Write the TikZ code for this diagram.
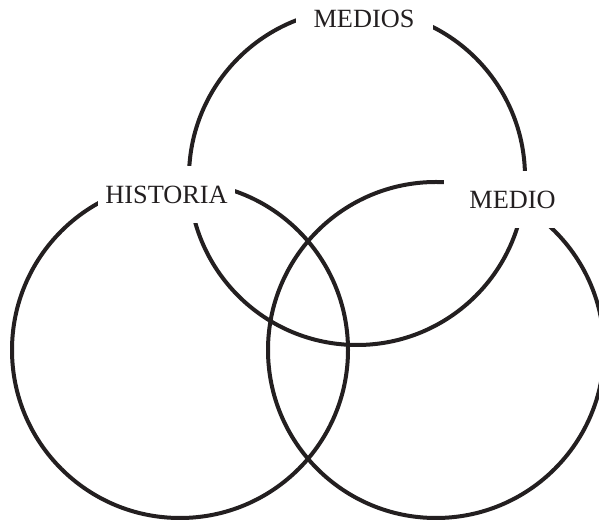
\documentclass[tikz,border=0pt]{standalone}
\usepackage{fontspec}
\setmainfont{Liberation Serif}
\definecolor{ink}{HTML}{231F20}
\tikzset{
  ring/.style={draw=ink, line width=4pt},
  tag/.style={fill=white, text=ink, inner sep=0pt, minimum width=137pt, minimum height=57pt,
    font=\fontsize{26.3}{30}\selectfont}
}
\begin{document}
\begin{tikzpicture}[x=1pt,y=1pt]
\useasboundingbox (0,0) rectangle (599,521);
\clip (0,0) rectangle (599,521);
\fill[white] (0,0) rectangle (599,521);
% circles
\draw[ring] (357,344) circle[radius=168];
\draw[ring] (180,171) circle[radius=168];
\draw[ring] (436,171) circle[radius=168];
% labels (white boxes cut the circles)
\node[tag] (medios) at (364,502) {MEDIOS};
\node[tag] (historia) at (166.6,326) {HISTORIA};
\node[tag] (medio) at (512.5,321.5) {MEDIO};
\end{tikzpicture}
\end{document}
